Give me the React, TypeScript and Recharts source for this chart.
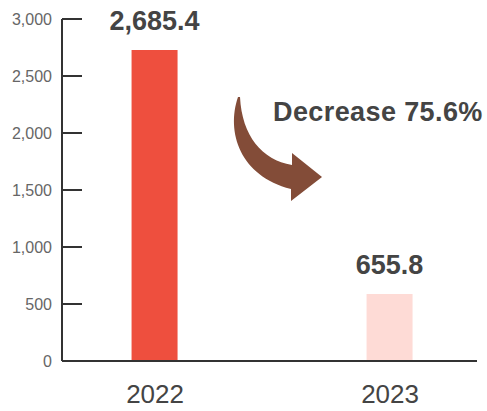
import React from "react";
import { BarChart, Bar, XAxis, YAxis, LabelList, Cell, Customized } from "recharts";

const years = [2022, 2023];
const barValues = [2728, 588];
const valueLabels = ["2,685.4", "655.8"];
const barColors = ["#ee4f3e", "#fedbd6"];
const yTicks = [0, 500, 1000, 1500, 2000, 2500, 3000];
const changeText = "Decrease 75.6%";

const data = years.map((y, i) => ({ year: y, value: barValues[i], label: valueLabels[i] }));

const FONT = "'Liberation Sans', Arial, Helvetica, sans-serif";

const YTick = (props: any) => {
  const { x, y, payload } = props;
  return (
    <g>
      <line x1={x} y1={y} x2={x + 20} y2={y} stroke="#333" strokeWidth={2} />
      <text x={x - 10} y={y} dy="0.355em" textAnchor="end" fill="#666" fontSize={16} fontFamily={FONT}>
        {payload.value.toLocaleString("en-US")}
      </text>
    </g>
  );
};

const Annotation = () => (
  <g>
    <path
      d="M 238 97 C 226 132, 240 176, 291 189 L 291 201 L 322 177 L 292 153 L 292 165 C 262 160, 242 136, 240 97 Z"
      fill="#834c38"
    />
    <text x={273} y={121} fill="#444" fontSize={27} fontWeight="bold" fontFamily={FONT} letterSpacing={0.4}>
      {changeText}
    </text>
  </g>
);

export default function App() {
  return (
    <div style={{ position: "absolute", left: 0, top: 0 }}>
      <BarChart width={487} height={411} data={data} margin={{ top: 19, right: 10, bottom: 0, left: 0 }}>
        <XAxis
          dataKey="year"
          type="number"
          domain={[2021.604, 2023.37]}
          ticks={years}
          allowDataOverflow
          tickLine={false}
          tickSize={0}
          tickMargin={24}
          height={50}
          axisLine={{ stroke: "#333", strokeWidth: 2 }}
          tick={{ fill: "#444", fontSize: 26, fontFamily: FONT }}
          tickFormatter={(v: number) => String(v)}
        />
        <YAxis
          domain={[0, 3000]}
          ticks={yTicks}
          width={62}
          tickLine={false}
          tickSize={0}
          tickMargin={0}
          axisLine={{ stroke: "#333", strokeWidth: 2 }}
          tick={<YTick />}
        />
        <Bar dataKey="value" barSize={46} isAnimationActive={false}>
          {data.map((d, i) => (
            <Cell key={d.year} fill={barColors[i]} />
          ))}
          <LabelList
            dataKey="label"
            position="top"
            offset={20}
            fill="#444"
            fontSize={27}
            fontWeight="bold"
            fontFamily={FONT}
          />
        </Bar>
        <Customized component={Annotation} />
      </BarChart>
    </div>
  );
}
